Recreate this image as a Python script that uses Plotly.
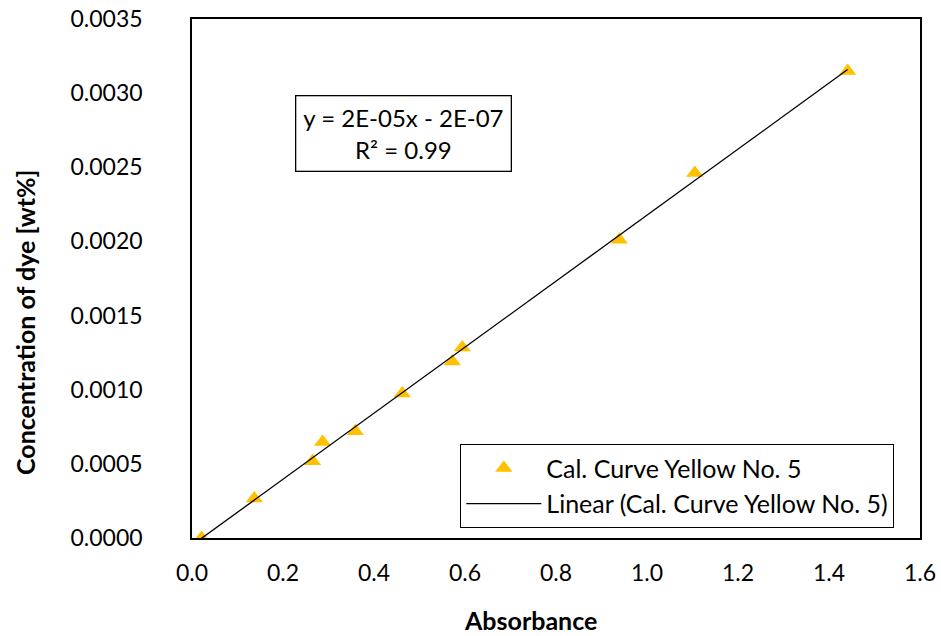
import numpy as np
import plotly.graph_objects as go

# Calibration data: absorbance vs. dye concentration (wt%)
absorbance = [0.021, 0.137, 0.265, 0.287, 0.359, 0.462, 0.572, 0.594, 0.939, 1.105, 1.441]
concentration = [0.0000, 0.000267, 0.000518, 0.000648, 0.000720, 0.000974,
                 0.001190, 0.001284, 0.002012, 0.002461, 0.003150]

x_ticks = [0.0, 0.2, 0.4, 0.6, 0.8, 1.0, 1.2, 1.4, 1.6]
y_ticks = [0.0, 0.0005, 0.0010, 0.0015, 0.0020, 0.0025, 0.0030, 0.0035]

series_name = "Cal. Curve Yellow No. 5"
trend_name = "Linear (Cal. Curve Yellow No. 5)"
equation_text = "y = 2E-05x - 2E-07<br>R² = 0.99"
x_title = "<b>Absorbance</b>"
y_title = "<b>Concentration of dye [wt%]</b>"

# Least-squares trend line over the measured range
slope, intercept = np.polyfit(absorbance, concentration, 1)
x_fit = np.array([min(absorbance), max(absorbance)])
y_fit = slope * x_fit + intercept

FONT = "Lato, 'Open Sans', sans-serif"
FS = 23

# Plot-area geometry in pixels
W, H = 941, 636
L, R, T, B = 192, 21, 19, 98
PW, PH = W - L - R, H - T - B


def px_to_paper(px, py):
    return (px - L) / PW, (H - B - py) / PH


fig = go.Figure()
fig.add_trace(go.Scatter(
    x=absorbance, y=concentration, mode="markers", name=series_name,
    marker=dict(symbol="triangle-up", size=15, color="#FFC000",
                line=dict(width=0)),
))
fig.add_trace(go.Scatter(
    x=x_fit, y=y_fit, mode="lines", name=trend_name,
    line=dict(color="black", width=1.3),
))

# Trend-line equation box
fig.add_annotation(
    x=0.465, y=0.00273, xref="x", yref="y", text=equation_text,
    showarrow=False, align="center",
    font=dict(family=FONT, size=24, color="black"),
    bordercolor="black", borderwidth=1.3, borderpad=7, bgcolor="white",
)

# Axis titles placed as free text
xt_x, xt_y = px_to_paper(530, 620)
fig.add_annotation(
    x=xt_x, y=xt_y, xref="paper", yref="paper", text=x_title,
    xanchor="center", yanchor="middle", showarrow=False,
    font=dict(family=FONT, size=25, color="black"),
)
yt_x, yt_y = px_to_paper(25, 323)
fig.add_annotation(
    x=yt_x, y=yt_y, xref="paper", yref="paper", text=y_title, textangle=-90,
    xanchor="center", yanchor="middle", showarrow=False,
    font=dict(family=FONT, size=25, color="black"),
)

axis_common = dict(
    showgrid=False, zeroline=False, showline=True, linecolor="black",
    linewidth=1.5, mirror=True, ticks="", automargin=False,
    tickfont=dict(family=FONT, size=FS, color="black"),
)

lg_x, lg_y = px_to_paper(894, 444)
fig.update_layout(
    width=W, height=H,
    margin=dict(l=L, r=R, t=T, b=B),
    paper_bgcolor="white", plot_bgcolor="white",
    xaxis=dict(range=[0, 1.6], tickvals=x_ticks,
               ticktext=[f"{v:.1f}" for v in x_ticks],
               ticklabelstandoff=14, **axis_common),
    yaxis=dict(range=[0, 0.0035], tickvals=y_ticks,
               ticktext=[f"{v:.4f}" for v in y_ticks],
               ticklabelstandoff=43, **axis_common),
    legend=dict(x=lg_x, y=lg_y, xanchor="right", yanchor="top",
                bordercolor="black", borderwidth=1.3, bgcolor="white",
                font=dict(family=FONT, size=25, color="black"),
                itemwidth=75, tracegroupgap=0),
    showlegend=True,
)

fig.write_html("out.html")
